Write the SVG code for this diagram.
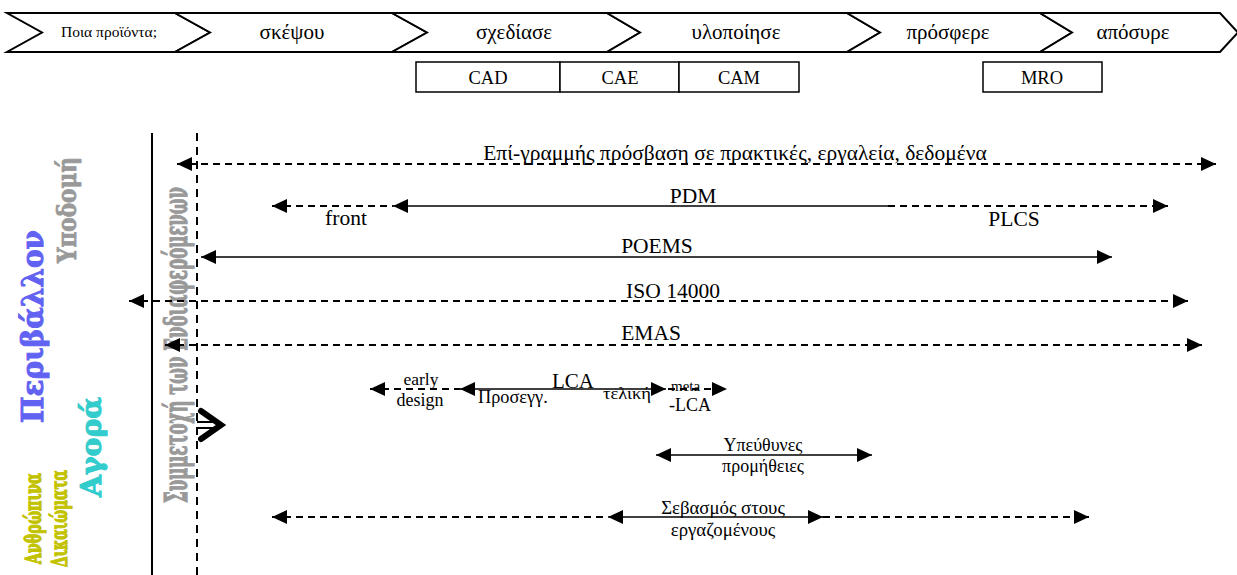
<svg xmlns="http://www.w3.org/2000/svg" width="1237" height="575" viewBox="0 0 1237 575">
<style>
.t{font-family:"Liberation Serif","Times New Roman",serif;fill:#000;font-size:18px}
.L{font-size:21.5px}
.c{text-anchor:middle}
.chev{fill:#fff;stroke:#000;stroke-width:2;stroke-linejoin:miter}
.box{fill:#fff;stroke:#000;stroke-width:1.5}
.sl{stroke:#000;stroke-width:1.5;fill:none}
.dl{stroke:#000;stroke-width:2;stroke-dasharray:7 5;fill:none}
.rot{font-family:"DejaVu Serif","Liberation Serif",serif;font-weight:bold}
</style>
<defs>
<marker id="ah" viewBox="0 0 15 14" refX="15" refY="7" markerWidth="15" markerHeight="14" markerUnits="userSpaceOnUse" orient="auto-start-reverse"><path d="M0,0 L15,7 L0,14 z" fill="#000"/></marker>
</defs>
<rect width="1237" height="575" fill="#fff"/>

<g id="chevrons">
<g id="ch1"><polygon class="chev" points="7,13 175,13 210,32.5 175,52 7,52 42,32.5"/><text class="t c" x="109" y="37" style="font-size:15.5px">Ποια προϊόντα;</text></g>
<g id="ch2"><polygon class="chev" points="175,13 392,13 427,32.5 392,52 175,52 210,32.5"/><text class="t c" x="292" y="39" style="font-size:21px">σκέψου</text></g>
<g id="ch3"><polygon class="chev" points="392,13 607,13 640,32.5 607,52 392,52 427,32.5"/><text class="t c" x="514" y="39" style="font-size:21px">σχεδίασε</text></g>
<g id="ch4"><polygon class="chev" points="607,13 847,13 880,32.5 847,52 607,52 640,32.5"/><text class="t c" x="736" y="39" style="font-size:21px">υλοποίησε</text></g>
<g id="ch5"><polygon class="chev" points="847,13 1040,13 1072,32.5 1040,52 847,52 880,32.5"/><text class="t c" x="948" y="39" style="font-size:21px">πρόσφερε</text></g>
<g id="ch6"><polygon class="chev" points="1040,13 1220,13 1238,32.5 1220,52 1040,52 1072,32.5"/><text class="t c" x="1133" y="39" style="font-size:21px">απόσυρε</text></g>
</g>

<g id="tools">
<g id="cad"><rect class="box" x="416" y="62" width="144" height="30"/><text class="t c" x="488" y="84" style="font-size:18.5px">CAD</text></g>
<g id="cae"><rect class="box" x="560" y="62" width="119" height="30"/><text class="t c" x="620" y="84" style="font-size:18.5px">CAE</text></g>
<g id="cam"><rect class="box" x="679" y="62" width="120" height="30"/><text class="t c" x="739" y="84" style="font-size:18.5px">CAM</text></g>
<g id="mro"><rect class="box" x="983" y="62" width="119" height="30"/><text class="t c" x="1042" y="84" style="font-size:18.5px">MRO</text></g>
</g>

<g id="side-labels">
<text class="rot" transform="translate(43,423) rotate(-90)" style="font-size:30px;fill:#6262f2;stroke:#6262f2;stroke-width:1" textLength="193" lengthAdjust="spacingAndGlyphs">Περιβάλλον</text>
<text class="rot" transform="translate(76,263) rotate(-90)" style="font-size:26px;fill:#999;stroke:#999;stroke-width:0.8" textLength="106" lengthAdjust="spacingAndGlyphs">Υποδομή</text>
<text class="rot" transform="translate(101,497) rotate(-90)" style="font-size:28px;fill:#33cccc;stroke:#33cccc;stroke-width:1" textLength="100" lengthAdjust="spacingAndGlyphs">Αγορά</text>
<text class="rot" transform="translate(41,564) rotate(-90)" style="font-size:22px;fill:#c2c200;stroke:#c2c200;stroke-width:1.3" textLength="91" lengthAdjust="spacingAndGlyphs">Ανθρώπινα</text>
<text class="rot" transform="translate(67,567) rotate(-90)" style="font-size:22px;fill:#c2c200;stroke:#c2c200;stroke-width:1.3" textLength="97" lengthAdjust="spacingAndGlyphs">Δικαιώματα</text>
<text class="rot" transform="translate(187,503) rotate(-90)" style="font-size:31px;fill:#999;stroke:#999;stroke-width:1.2" textLength="316" lengthAdjust="spacingAndGlyphs">Συμμετοχή των Ενδιαφερόμενων</text>
</g>

<g id="axes">
<line x1="152" y1="133" x2="152" y2="575" stroke="#000" stroke-width="2"/>
<line x1="197" y1="133" x2="197" y2="575" stroke="#000" stroke-width="2" stroke-dasharray="8 6"/>
<g id="double-arrow" stroke="#000" fill="none">
<polyline points="201,411 221,425 201,439" stroke-width="6" stroke-linecap="round" stroke-linejoin="miter"/>
<line x1="197" y1="422" x2="213" y2="422" stroke-width="2"/>
<line x1="197" y1="428" x2="213" y2="428" stroke-width="2"/>
</g>
</g>

<g id="connectors">
<line class="dl" x1="177" y1="164" x2="1216" y2="164" marker-start="url(#ah)" marker-end="url(#ah)"/>
<line class="dl" x1="272" y1="206" x2="393" y2="206" marker-start="url(#ah)"/>
<line class="sl" x1="393" y1="206" x2="888" y2="206" marker-start="url(#ah)"/>
<line class="dl" x1="888" y1="206" x2="1168" y2="206" marker-end="url(#ah)"/>
<line class="sl" x1="201" y1="257" x2="1112" y2="257" marker-start="url(#ah)" marker-end="url(#ah)"/>
<line class="dl" x1="129" y1="301" x2="1188" y2="301" marker-start="url(#ah)" marker-end="url(#ah)"/>
<line class="dl" x1="165" y1="345" x2="1202" y2="345" marker-start="url(#ah)" marker-end="url(#ah)"/>
<line class="dl" x1="370" y1="389" x2="460" y2="389" marker-start="url(#ah)"/>
<line class="sl" x1="460" y1="389" x2="666" y2="389" marker-start="url(#ah)" marker-end="url(#ah)"/>
<line class="dl" x1="668" y1="389" x2="727" y2="389" marker-end="url(#ah)"/>
<line class="sl" x1="656" y1="455" x2="872" y2="455" marker-start="url(#ah)" marker-end="url(#ah)"/>
<line class="dl" x1="272" y1="517" x2="608" y2="517" marker-start="url(#ah)"/>
<line class="sl" x1="608" y1="517" x2="823" y2="517" marker-start="url(#ah)" marker-end="url(#ah)"/>
<line class="dl" x1="823" y1="517" x2="1089" y2="517" marker-end="url(#ah)"/>
</g>

<g id="labels">
<text class="t c L" x="735" y="160">Επί-γραμμής πρόσβαση σε πρακτικές, εργαλεία, δεδομένα</text>
<text class="t c L" x="693" y="203">PDM</text>
<text class="t c L" x="346" y="225">front</text>
<text class="t c L" x="1014" y="226">PLCS</text>
<text class="t c L" x="657" y="253">POEMS</text>
<text class="t c L" x="673" y="298">ISO 14000</text>
<text class="t c L" x="651" y="340">EMAS</text>
<text class="t c" x="421" y="385" style="font-size:17.5px">early</text>
<text class="t c" x="420" y="406">design</text>
<text class="t c" x="573" y="388" style="font-size:21px">LCA</text>
<text class="t" x="478" y="403" style="font-size:18.3px">Προσεγγ.</text>
<text class="t" x="603" y="399" style="font-size:16px" textLength="48" lengthAdjust="spacingAndGlyphs">τελική</text>
<text class="t" x="671" y="391" style="font-size:15px">meta</text>
<text class="t" x="669" y="411">-LCA</text>
<text class="t c" x="763" y="451">Υπεύθυνες</text>
<text class="t c" x="763" y="472">προμήθειες</text>
<text class="t c" x="723" y="514" style="font-size:18.8px">Σεβασμός στους</text>
<text class="t c" x="723" y="536" style="font-size:18.8px">εργαζομένους</text>
</g>
</svg>
